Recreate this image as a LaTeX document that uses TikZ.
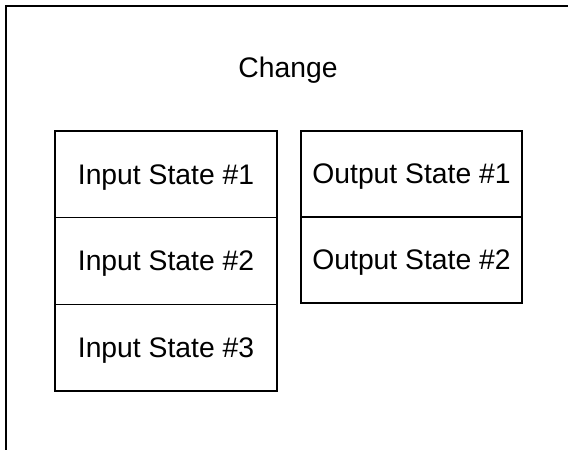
\documentclass[tikz,border=0pt]{standalone}
\usepackage{fontspec}
\setmainfont{Liberation Sans}
\begin{document}
\begin{tikzpicture}[x=1pt,y=-1pt,
  statebox/.style={draw=black, line width=1.5pt, rectangle, inner sep=0pt,
    minimum width=222pt, minimum height=86.7pt, text depth=0pt,
    font=\fontsize{28.3}{34}\selectfont},
  lbl/.style={inner sep=0pt, anchor=base, font=\fontsize{28.3}{34}\selectfont}]
\useasboundingbox (0,0) rectangle (568,450);
\coordinate (fbl) at (6,452);
\coordinate (ftl) at (6,6);
\coordinate (ftr) at (570,6);
\draw[line width=2.2pt, line join=miter] (fbl) -- (ftl) -- (ftr);
\node[lbl] (change) at (288,77) {Change};
\node[statebox] (in1) at (166,174.35) {Input State \#1};
\node[statebox] (in2) at (166,261.0) {Input State \#2};
\node[statebox] (in3) at (166,347.65) {Input State \#3};
\node[statebox, minimum width=221pt, minimum height=86pt] (out1) at (411.5,174) {Output State \#1};
\node[statebox, minimum width=221pt, minimum height=86pt] (out2) at (411.5,260) {Output State \#2};
\end{tikzpicture}
\end{document}
